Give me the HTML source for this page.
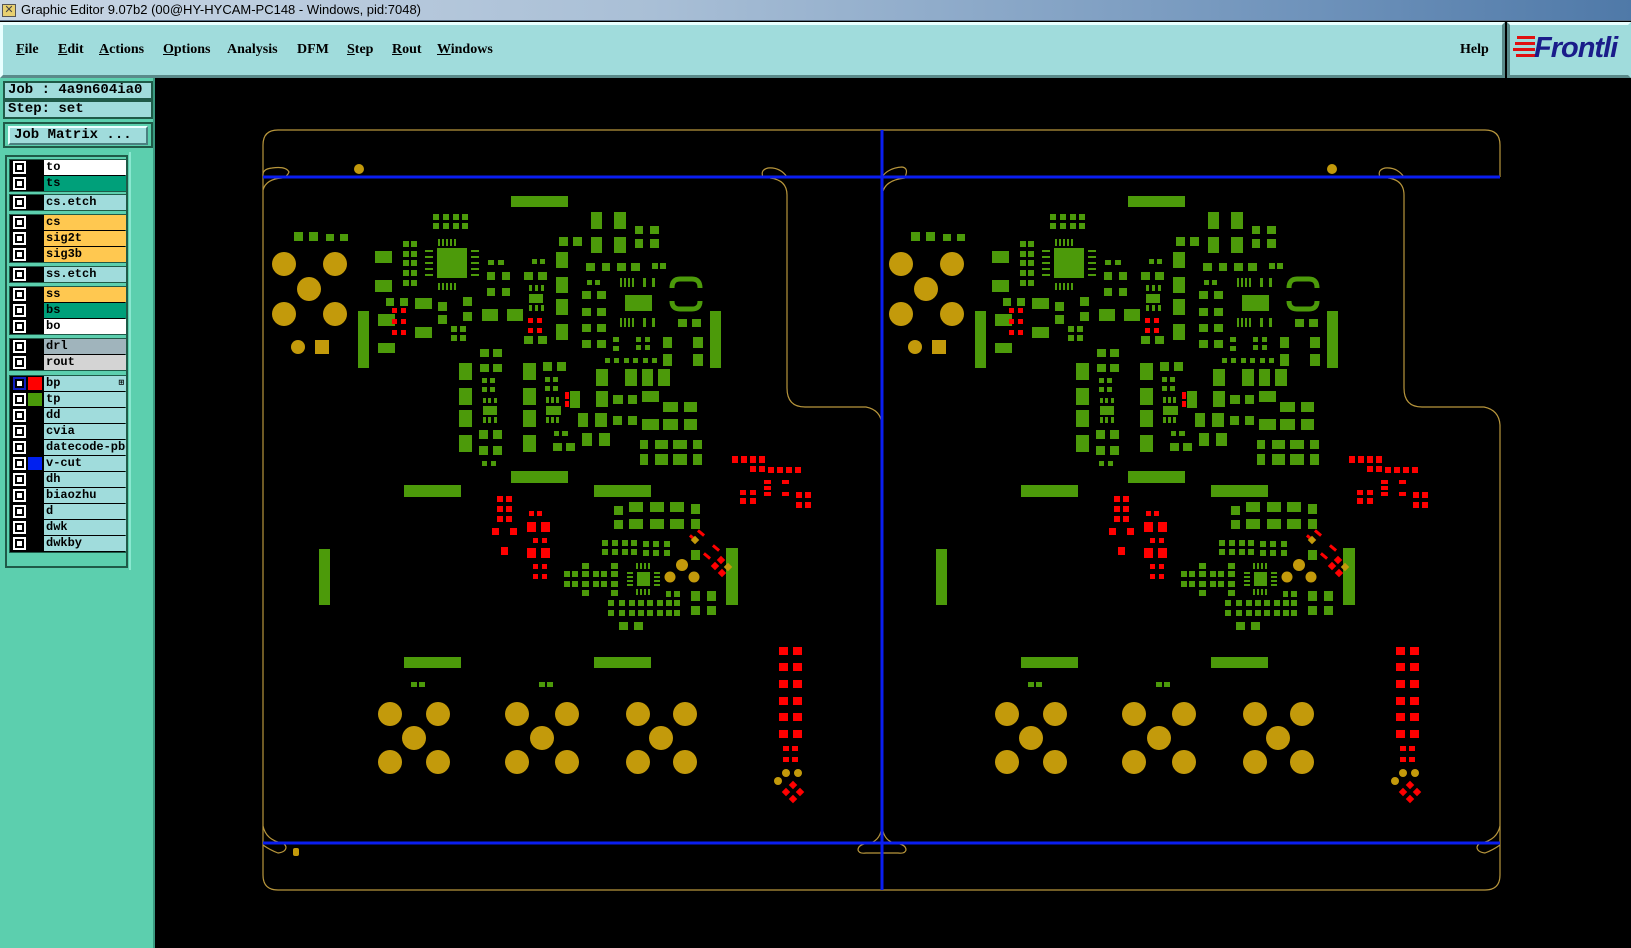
<!DOCTYPE html>
<html><head><meta charset="utf-8"><style>
*{margin:0;padding:0;box-sizing:border-box}
body{width:1631px;height:948px;overflow:hidden;background:#000;position:relative;font-family:"Liberation Sans",sans-serif}
.title{position:absolute;left:0;top:0;width:1631px;height:21px;background:linear-gradient(90deg,#c9d6e4,#a9bfd6 40%,#6f93bb 80%,#4f79a8);border-bottom:1px solid #5a6e84}
.title span{position:absolute;left:21px;top:2px;font-size:13px;color:#000}
.ico{position:absolute;left:2px;top:4px;width:14px;height:13px;background:#e8d070;border:1px solid #555;font-size:11px;line-height:11px;text-align:center;color:#444}
.menu{position:absolute;left:0;top:22px;width:1505px;height:56px;background:#a0dcdc;border:3px solid;border-color:#e8ffff #5a8a8a #5a8a8a #e8ffff}
.menu b{position:absolute;top:17px;font-family:"Liberation Serif",serif;font-size:14px;color:#000}
.logo{position:absolute;left:1507px;top:22px;width:124px;height:56px;background:#a0dcdc;border:3px solid;border-color:#e8ffff #a0dcdc #5a8a8a #5a8a8a}
.logo i{position:absolute;left:24px;top:7px;font:italic bold 29px "Liberation Sans",sans-serif;color:#1a1c8a;letter-spacing:-1px}
.panel{position:absolute;left:0;top:78px;width:155px;height:870px;background:#5ccfae;border-right:2px solid #3a9a80}
.box{position:absolute;left:3px;width:150px;height:19px;background:#a0dcdc;border:2px solid #1f5a48;font:bold 14px "Liberation Mono",monospace;padding-left:3px;line-height:15px}
.btn{position:absolute;left:3px;top:122px;width:150px;height:26px;border:2px solid #1f5a48;background:#5ccfae}
.btn div{position:absolute;left:3px;top:2px;width:140px;height:19px;background:#a0dcdc;border:2px solid;border-color:#e8ffff #4a8080 #4a8080 #e8ffff;font:bold 14px "Liberation Mono",monospace;padding-left:4px;line-height:15px}
.list{position:absolute;left:5px;top:155px;width:123px;height:413px;background:#5ccfae;border:2px solid #1f5a48}
.side{position:absolute;left:129px;top:152px;width:24px;height:418px;background:#5ccfae;border-left:2px solid #8ae8d0}
.grp{position:absolute;left:2px;width:117px;background:#000;border:1px solid #1f5a48}
.row{position:absolute;left:0;width:116px;height:15px}
.cb{position:absolute;left:3px;top:1px;width:13px;height:13px;background:#fff;padding:2px}
.cb i{display:block;width:9px;height:9px;border:2px solid #000;background:#fff}
.sw{position:absolute;left:18px;top:1px;width:14px;height:13px}
.lb{position:absolute;left:34px;top:0;width:82px;height:15px;font:bold 12px "Liberation Mono",monospace;line-height:14px;padding-left:2px;white-space:nowrap;overflow:hidden;background:#a0dcdc}
</style></head><body>
<div class="title"><div class="ico">✕</div><span>Graphic Editor 9.07b2 (00@HY-HYCAM-PC148 - Windows, pid:7048)</span></div>
<div class="menu">
<b style="left:13px"><u>F</u>ile</b><b style="left:55px"><u>E</u>dit</b><b style="left:96px"><u>A</u>ctions</b><b style="left:160px"><u>O</u>ptions</b><b style="left:224px">Analysis</b><b style="left:294px">DFM</b><b style="left:344px"><u>S</u>tep</b><b style="left:389px"><u>R</u>out</b><b style="left:434px"><u>W</u>indows</b><b style="left:1457px">Help</b>
</div>
<div class="logo">
<svg width="30" height="40" style="position:absolute;left:3px;top:6px"><g fill="#e01010"><rect x="4" y="5" width="18" height="3"/><rect x="2" y="11" width="20" height="3"/><rect x="0" y="17" width="22" height="3"/><rect x="3" y="23" width="19" height="3"/></g></svg>
<i>Frontli</i></div>
<div class="panel">
<div class="box" style="top:3px">Job : 4a9n604ia0</div>
<div class="box" style="top:22px">Step: set</div>
<div class="btn" style="top:44px"><div>Job Matrix ...</div></div>
</div>
<div class="side"></div>
<div class="list">
<div class="grp" style="top:2px;height:33px">
<div class="row" style="top:0"><div class="cb"><i></i></div><div class="lb" style="background:#fff">to</div></div>
<div class="row" style="top:16px"><div class="cb"><i></i></div><div class="lb" style="background:#00a07a">ts</div></div></div>
<div class="grp" style="top:37px;height:17px">
<div class="row" style="top:0"><div class="cb"><i></i></div><div class="lb">cs.etch</div></div></div>
<div class="grp" style="top:57px;height:49px">
<div class="row" style="top:0"><div class="cb"><i></i></div><div class="lb" style="background:#ffc850">cs</div></div>
<div class="row" style="top:16px"><div class="cb"><i></i></div><div class="lb" style="background:#ffc850">sig2t</div></div>
<div class="row" style="top:32px"><div class="cb"><i></i></div><div class="lb" style="background:#ffc850">sig3b</div></div></div>
<div class="grp" style="top:109px;height:17px">
<div class="row" style="top:0"><div class="cb"><i></i></div><div class="lb">ss.etch</div></div></div>
<div class="grp" style="top:129px;height:49px">
<div class="row" style="top:0"><div class="cb"><i></i></div><div class="lb" style="background:#ffc850">ss</div></div>
<div class="row" style="top:16px"><div class="cb"><i></i></div><div class="lb" style="background:#00a07a">bs</div></div>
<div class="row" style="top:32px"><div class="cb"><i></i></div><div class="lb" style="background:#fff">bo</div></div></div>
<div class="grp" style="top:181px;height:33px">
<div class="row" style="top:0"><div class="cb"><i></i></div><div class="lb" style="background:#a0b4bc">drl</div></div>
<div class="row" style="top:16px"><div class="cb"><i></i></div><div class="lb" style="background:#d4d4d4">rout</div></div></div>
<div class="grp" style="top:218px;height:178px">
<div class="row" style="top:0"><div class="cb" style="background:#1020c0"><i></i></div><div class="sw" style="background:#f00"></div><div class="lb">bp<span style="position:absolute;right:2px;top:0;font-size:9px">⊞</span></div></div>
<div class="row" style="top:16px"><div class="cb"><i></i></div><div class="sw" style="background:#4a9a0a"></div><div class="lb">tp</div></div>
<div class="row" style="top:32px"><div class="cb"><i></i></div><div class="lb">dd</div></div>
<div class="row" style="top:48px"><div class="cb"><i></i></div><div class="lb">cvia</div></div>
<div class="row" style="top:64px"><div class="cb"><i></i></div><div class="lb">datecode-pbc</div></div>
<div class="row" style="top:80px"><div class="cb"><i></i></div><div class="sw" style="background:#0020f0"></div><div class="lb">v-cut</div></div>
<div class="row" style="top:96px"><div class="cb"><i></i></div><div class="lb">dh</div></div>
<div class="row" style="top:112px"><div class="cb"><i></i></div><div class="lb">biaozhu</div></div>
<div class="row" style="top:128px"><div class="cb"><i></i></div><div class="lb">d</div></div>
<div class="row" style="top:144px"><div class="cb"><i></i></div><div class="lb">dwk</div></div>
<div class="row" style="top:160px"><div class="cb"><i></i></div><div class="lb">dwkby</div></div></div>
</div>

<svg width="1631" height="948" style="position:absolute;left:0;top:0" xmlns="http://www.w3.org/2000/svg">
<defs>
<g id="b">
<g fill="#4c9a0a">
<rect x="511" y="196" width="57" height="11"/><rect x="511" y="471" width="57" height="12"/>
<rect x="404" y="485" width="57" height="12"/><rect x="594" y="485" width="57" height="12"/>
<rect x="404" y="657" width="57" height="11"/><rect x="594" y="657" width="57" height="11"/>
<rect x="358" y="311" width="11" height="57"/><rect x="710" y="311" width="11" height="57"/>
<rect x="319" y="549" width="11" height="56"/><rect x="726" y="548" width="12" height="57"/>
<rect x="294" y="232" width="9" height="9"/><rect x="309" y="232" width="9" height="9"/><rect x="326" y="234" width="8" height="7"/><rect x="340" y="234" width="8" height="7"/>
<rect x="437" y="248" width="30" height="30"/>
<rect x="438" y="239" width="2" height="7"/><rect x="442" y="239" width="2" height="7"/><rect x="446" y="239" width="2" height="7"/><rect x="450" y="239" width="2" height="7"/><rect x="454" y="239" width="2" height="7"/>
<rect x="438" y="283" width="2" height="7"/><rect x="442" y="283" width="2" height="7"/><rect x="446" y="283" width="2" height="7"/><rect x="450" y="283" width="2" height="7"/><rect x="454" y="283" width="2" height="7"/>
<rect x="425" y="250" width="8" height="2"/><rect x="425" y="256" width="8" height="2"/><rect x="425" y="262" width="8" height="2"/><rect x="425" y="268" width="8" height="2"/><rect x="425" y="274" width="8" height="2"/>
<rect x="471" y="250" width="8" height="2"/><rect x="471" y="256" width="8" height="2"/><rect x="471" y="262" width="8" height="2"/><rect x="471" y="268" width="8" height="2"/><rect x="471" y="274" width="8" height="2"/>
<rect x="433" y="214" width="6" height="6"/><rect x="443" y="214" width="6" height="6"/><rect x="453" y="214" width="6" height="6"/><rect x="462" y="214" width="6" height="6"/>
<rect x="433" y="223" width="6" height="6"/><rect x="443" y="223" width="6" height="6"/><rect x="453" y="223" width="6" height="6"/><rect x="462" y="223" width="6" height="6"/>
<rect x="403" y="241" width="6" height="6"/><rect x="411" y="241" width="6" height="6"/><rect x="403" y="251" width="6" height="6"/><rect x="411" y="251" width="6" height="6"/><rect x="403" y="260" width="6" height="6"/><rect x="411" y="260" width="6" height="6"/><rect x="403" y="270" width="6" height="6"/><rect x="411" y="270" width="6" height="6"/><rect x="403" y="280" width="6" height="6"/><rect x="411" y="280" width="6" height="6"/>
<rect x="375" y="251" width="17" height="12"/><rect x="375" y="280" width="17" height="12"/>
<rect x="378" y="314" width="17" height="12"/><rect x="378" y="343" width="17" height="10"/>
<rect x="386" y="298" width="8" height="8"/><rect x="400" y="298" width="8" height="8"/>
<rect x="415" y="298" width="17" height="11"/><rect x="415" y="327" width="17" height="11"/>
<rect x="438" y="302" width="9" height="9"/><rect x="438" y="315" width="9" height="9"/><rect x="463" y="297" width="9" height="9"/><rect x="463" y="312" width="9" height="9"/>
<rect x="451" y="326" width="6" height="6"/><rect x="460" y="326" width="6" height="6"/><rect x="451" y="335" width="6" height="6"/><rect x="460" y="335" width="6" height="6"/>
<rect x="482" y="309" width="16" height="12"/><rect x="507" y="309" width="16" height="12"/>
<rect x="488" y="260" width="6" height="5"/><rect x="498" y="260" width="6" height="5"/>
<rect x="487" y="272" width="8" height="8"/><rect x="502" y="272" width="8" height="8"/><rect x="487" y="288" width="8" height="8"/><rect x="502" y="288" width="8" height="8"/>
<rect x="532" y="259" width="5" height="5"/><rect x="540" y="259" width="5" height="5"/>
<rect x="524" y="272" width="9" height="8"/><rect x="538" y="272" width="9" height="8"/>
<rect x="529" y="285" width="3" height="6"/><rect x="535" y="285" width="3" height="6"/><rect x="541" y="285" width="3" height="6"/>
<rect x="529" y="294" width="14" height="9"/>
<rect x="529" y="305" width="3" height="6"/><rect x="535" y="305" width="3" height="6"/><rect x="541" y="305" width="3" height="6"/>
<rect x="524" y="336" width="9" height="8"/><rect x="538" y="336" width="9" height="8"/>
<rect x="559" y="237" width="9" height="9"/><rect x="573" y="237" width="9" height="9"/>
<rect x="556" y="252" width="12" height="16"/><rect x="556" y="277" width="12" height="16"/><rect x="556" y="299" width="12" height="16"/><rect x="556" y="324" width="12" height="16"/>
<rect x="591" y="212" width="11" height="17"/><rect x="614" y="212" width="12" height="17"/><rect x="591" y="237" width="11" height="16"/><rect x="614" y="237" width="12" height="16"/>
<rect x="635" y="226" width="8" height="8"/><rect x="650" y="226" width="9" height="8"/><rect x="635" y="239" width="8" height="9"/><rect x="650" y="239" width="9" height="9"/>
<rect x="586" y="263" width="9" height="8"/><rect x="602" y="263" width="8" height="8"/><rect x="617" y="263" width="9" height="8"/><rect x="631" y="263" width="9" height="8"/><rect x="652" y="263" width="6" height="6"/><rect x="660" y="263" width="6" height="6"/>
<rect x="587" y="280" width="5" height="5"/><rect x="595" y="280" width="5" height="5"/>
<rect x="582" y="291" width="9" height="8"/><rect x="597" y="291" width="9" height="8"/><rect x="582" y="308" width="9" height="8"/><rect x="597" y="308" width="9" height="8"/><rect x="582" y="324" width="9" height="8"/><rect x="597" y="324" width="9" height="8"/><rect x="582" y="340" width="9" height="8"/><rect x="597" y="340" width="9" height="8"/>
<rect x="620" y="278" width="2" height="9"/><rect x="624" y="278" width="2" height="9"/><rect x="628" y="278" width="2" height="9"/><rect x="632" y="278" width="2" height="9"/><rect x="643" y="278" width="3" height="9"/><rect x="652" y="278" width="3" height="9"/>
<rect x="620" y="318" width="2" height="9"/><rect x="624" y="318" width="2" height="9"/><rect x="628" y="318" width="2" height="9"/><rect x="632" y="318" width="2" height="9"/><rect x="643" y="318" width="3" height="9"/><rect x="652" y="318" width="3" height="9"/>
<rect x="625" y="295" width="27" height="16"/>
<rect x="678" y="319" width="9" height="8"/><rect x="692" y="319" width="9" height="8"/>
<rect x="459" y="363" width="13" height="17"/><rect x="459" y="388" width="13" height="17"/><rect x="459" y="410" width="13" height="17"/><rect x="459" y="435" width="13" height="17"/>
<rect x="480" y="349" width="9" height="8"/><rect x="493" y="349" width="9" height="8"/><rect x="480" y="364" width="9" height="8"/><rect x="493" y="364" width="9" height="8"/>
<rect x="482" y="378" width="5" height="5"/><rect x="490" y="378" width="5" height="5"/><rect x="482" y="387" width="5" height="5"/><rect x="490" y="387" width="5" height="5"/>
<rect x="483" y="398" width="3" height="5"/><rect x="488" y="398" width="3" height="5"/><rect x="494" y="398" width="3" height="5"/>
<rect x="483" y="406" width="14" height="9"/>
<rect x="483" y="417" width="3" height="6"/><rect x="488" y="417" width="3" height="6"/><rect x="494" y="417" width="3" height="6"/>
<rect x="479" y="430" width="9" height="9"/><rect x="493" y="430" width="9" height="9"/><rect x="479" y="446" width="9" height="9"/><rect x="493" y="446" width="9" height="9"/>
<rect x="482" y="461" width="5" height="5"/><rect x="491" y="461" width="5" height="5"/>
<rect x="523" y="363" width="13" height="17"/><rect x="523" y="388" width="13" height="17"/><rect x="523" y="410" width="13" height="17"/><rect x="523" y="435" width="13" height="17"/>
<rect x="543" y="362" width="9" height="9"/><rect x="557" y="362" width="9" height="9"/>
<rect x="545" y="377" width="5" height="5"/><rect x="553" y="377" width="5" height="5"/><rect x="545" y="386" width="5" height="5"/><rect x="553" y="386" width="5" height="5"/>
<rect x="546" y="397" width="3" height="6"/><rect x="551" y="397" width="3" height="6"/><rect x="556" y="397" width="3" height="6"/>
<rect x="546" y="406" width="15" height="9"/>
<rect x="546" y="417" width="3" height="6"/><rect x="551" y="417" width="3" height="6"/><rect x="556" y="417" width="3" height="6"/>
<rect x="554" y="431" width="5" height="5"/><rect x="562" y="431" width="6" height="5"/>
<rect x="553" y="443" width="9" height="8"/><rect x="566" y="443" width="9" height="8"/>
<rect x="570" y="391" width="10" height="17"/>
<rect x="578" y="413" width="10" height="14"/><rect x="595" y="413" width="12" height="14"/>
<rect x="582" y="433" width="10" height="13"/><rect x="599" y="433" width="11" height="13"/>
<rect x="596" y="369" width="12" height="17"/><rect x="596" y="391" width="12" height="16"/>
<rect x="605" y="358" width="5" height="5"/><rect x="614" y="358" width="5" height="5"/><rect x="624" y="358" width="5" height="5"/><rect x="633" y="358" width="5" height="5"/><rect x="643" y="358" width="5" height="5"/><rect x="652" y="358" width="5" height="5"/>
<rect x="613" y="337" width="6" height="5"/><rect x="613" y="346" width="6" height="5"/>
<rect x="636" y="337" width="5" height="5"/><rect x="645" y="337" width="5" height="5"/><rect x="636" y="345" width="5" height="5"/><rect x="645" y="345" width="5" height="5"/>
<rect x="625" y="369" width="12" height="17"/><rect x="642" y="369" width="11" height="17"/><rect x="658" y="369" width="12" height="17"/>
<rect x="663" y="337" width="9" height="11"/><rect x="663" y="354" width="9" height="12"/><rect x="693" y="337" width="10" height="11"/><rect x="693" y="354" width="10" height="12"/>
<rect x="613" y="395" width="10" height="9"/><rect x="628" y="395" width="9" height="9"/><rect x="642" y="391" width="17" height="11"/>
<rect x="613" y="416" width="9" height="9"/><rect x="628" y="416" width="9" height="9"/>
<rect x="663" y="402" width="15" height="10"/><rect x="684" y="402" width="13" height="10"/>
<rect x="642" y="419" width="17" height="11"/><rect x="663" y="419" width="15" height="11"/><rect x="684" y="419" width="13" height="11"/>
<rect x="640" y="440" width="8" height="9"/><rect x="655" y="440" width="13" height="9"/><rect x="673" y="440" width="14" height="9"/><rect x="693" y="440" width="9" height="9"/>
<rect x="640" y="454" width="8" height="11"/><rect x="655" y="454" width="13" height="11"/><rect x="673" y="454" width="14" height="11"/><rect x="693" y="454" width="9" height="11"/>
<rect x="614" y="506" width="9" height="9"/><rect x="614" y="520" width="9" height="9"/>
<rect x="629" y="502" width="14" height="10"/><rect x="650" y="502" width="14" height="10"/><rect x="670" y="502" width="14" height="10"/>
<rect x="629" y="519" width="14" height="10"/><rect x="650" y="519" width="14" height="10"/><rect x="670" y="519" width="14" height="10"/>
<rect x="691" y="504" width="9" height="10"/><rect x="691" y="519" width="9" height="10"/><rect x="691" y="550" width="9" height="10"/>
<rect x="602" y="540" width="6" height="6"/><rect x="612" y="540" width="6" height="6"/><rect x="622" y="540" width="6" height="6"/><rect x="631" y="540" width="6" height="6"/>
<rect x="602" y="549" width="6" height="6"/><rect x="612" y="549" width="6" height="6"/><rect x="622" y="549" width="6" height="6"/><rect x="631" y="549" width="6" height="6"/>
<rect x="643" y="541" width="6" height="6"/><rect x="653" y="541" width="6" height="6"/><rect x="664" y="541" width="6" height="6"/>
<rect x="643" y="550" width="6" height="6"/><rect x="653" y="550" width="6" height="6"/><rect x="664" y="550" width="6" height="6"/>
<rect x="564" y="571" width="6" height="6"/><rect x="572" y="571" width="6" height="6"/><rect x="564" y="581" width="6" height="6"/><rect x="572" y="581" width="6" height="6"/>
<rect x="582" y="563" width="7" height="6"/><rect x="582" y="571" width="7" height="6"/><rect x="582" y="581" width="7" height="6"/><rect x="582" y="590" width="7" height="6"/>
<rect x="593" y="571" width="6" height="6"/><rect x="601" y="571" width="6" height="6"/><rect x="593" y="581" width="6" height="6"/><rect x="601" y="581" width="6" height="6"/>
<rect x="611" y="563" width="7" height="6"/><rect x="611" y="571" width="7" height="6"/><rect x="611" y="581" width="7" height="6"/><rect x="611" y="590" width="7" height="6"/>
<rect x="637" y="572" width="13" height="14"/>
<rect x="636" y="563" width="2" height="6"/><rect x="640" y="563" width="2" height="6"/><rect x="644" y="563" width="2" height="6"/><rect x="648" y="563" width="2" height="6"/>
<rect x="636" y="589" width="2" height="6"/><rect x="640" y="589" width="2" height="6"/><rect x="644" y="589" width="2" height="6"/><rect x="648" y="589" width="2" height="6"/>
<rect x="627" y="572" width="6" height="2"/><rect x="627" y="576" width="6" height="2"/><rect x="627" y="580" width="6" height="2"/><rect x="627" y="584" width="6" height="2"/>
<rect x="654" y="572" width="6" height="2"/><rect x="654" y="576" width="6" height="2"/><rect x="654" y="580" width="6" height="2"/><rect x="654" y="584" width="6" height="2"/>
<rect x="666" y="591" width="5" height="6"/><rect x="674" y="591" width="6" height="6"/>
<rect x="608" y="600" width="6" height="6"/><rect x="619" y="600" width="6" height="6"/><rect x="629" y="600" width="6" height="6"/><rect x="638" y="600" width="6" height="6"/><rect x="647" y="600" width="6" height="6"/><rect x="657" y="600" width="6" height="6"/><rect x="666" y="600" width="6" height="6"/><rect x="674" y="600" width="6" height="6"/>
<rect x="608" y="610" width="6" height="6"/><rect x="619" y="610" width="6" height="6"/><rect x="629" y="610" width="6" height="6"/><rect x="638" y="610" width="6" height="6"/><rect x="647" y="610" width="6" height="6"/><rect x="657" y="610" width="6" height="6"/><rect x="666" y="610" width="6" height="6"/><rect x="674" y="610" width="6" height="6"/>
<rect x="619" y="622" width="9" height="8"/><rect x="634" y="622" width="9" height="8"/>
<rect x="691" y="591" width="9" height="10"/><rect x="707" y="591" width="9" height="10"/><rect x="691" y="606" width="9" height="9"/><rect x="707" y="606" width="9" height="9"/>
<rect x="411" y="682" width="6" height="5"/><rect x="419" y="682" width="6" height="5"/>
<rect x="539" y="682" width="6" height="5"/><rect x="547" y="682" width="6" height="5"/>
</g>
<path d="M672,288 Q672,279 680,279 H692 Q700,279 700,288 M672,301 Q672,309 680,309 H692 Q700,309 700,301" fill="none" stroke="#4c9a0a" stroke-width="5"/>
<g fill="#c39a0b">
<circle cx="284" cy="264" r="12"/><circle cx="335" cy="264" r="12"/><circle cx="309" cy="289" r="12"/><circle cx="284" cy="314" r="12"/><circle cx="335" cy="314" r="12"/>
<circle cx="298" cy="347" r="7"/><rect x="315" y="340" width="14" height="14"/>
<circle cx="390" cy="714" r="12"/><circle cx="438" cy="714" r="12"/><circle cx="414" cy="738" r="12"/><circle cx="390" cy="762" r="12"/><circle cx="438" cy="762" r="12"/>
<circle cx="517" cy="714" r="12"/><circle cx="567" cy="714" r="12"/><circle cx="542" cy="738" r="12"/><circle cx="517" cy="762" r="12"/><circle cx="567" cy="762" r="12"/>
<circle cx="638" cy="714" r="12"/><circle cx="685" cy="714" r="12"/><circle cx="661" cy="738" r="12"/><circle cx="638" cy="762" r="12"/><circle cx="685" cy="762" r="12"/>
<circle cx="682" cy="565" r="6"/><circle cx="670" cy="577" r="5.5"/><circle cx="694" cy="577" r="5.5"/>
<circle cx="786" cy="773" r="4"/><circle cx="798" cy="773" r="4"/><circle cx="778" cy="781" r="4"/>
</g>
<g fill="#f00">
<rect x="392" y="308" width="5" height="5"/><rect x="401" y="308" width="5" height="5"/><rect x="392" y="319" width="5" height="5"/><rect x="401" y="319" width="5" height="5"/><rect x="392" y="330" width="5" height="5"/><rect x="401" y="330" width="5" height="5"/>
<rect x="528" y="318" width="5" height="5"/><rect x="537" y="318" width="5" height="5"/><rect x="528" y="328" width="5" height="5"/><rect x="537" y="328" width="5" height="5"/>
<rect x="565" y="392" width="4" height="7"/><rect x="565" y="401" width="4" height="6"/>
<rect x="497" y="496" width="6" height="6"/><rect x="506" y="496" width="6" height="6"/><rect x="497" y="506" width="6" height="6"/><rect x="506" y="506" width="6" height="6"/><rect x="497" y="516" width="6" height="6"/><rect x="506" y="516" width="6" height="6"/>
<rect x="492" y="528" width="7" height="7"/><rect x="510" y="528" width="7" height="7"/><rect x="501" y="547" width="7" height="8"/>
<rect x="529" y="511" width="5" height="5"/><rect x="537" y="511" width="5" height="5"/>
<rect x="527" y="522" width="9" height="10"/><rect x="541" y="522" width="9" height="10"/>
<rect x="533" y="538" width="5" height="5"/><rect x="542" y="538" width="5" height="5"/>
<rect x="527" y="548" width="9" height="10"/><rect x="541" y="548" width="9" height="10"/>
<rect x="533" y="564" width="5" height="5"/><rect x="542" y="564" width="5" height="5"/><rect x="533" y="574" width="5" height="5"/><rect x="542" y="574" width="5" height="5"/>
<rect x="732" y="456" width="6" height="7"/><rect x="741" y="456" width="6" height="7"/><rect x="750" y="456" width="6" height="7"/><rect x="759" y="456" width="6" height="7"/>
<rect x="750" y="466" width="6" height="6"/><rect x="759" y="466" width="6" height="6"/><rect x="768" y="467" width="6" height="6"/><rect x="777" y="467" width="6" height="6"/><rect x="786" y="467" width="6" height="6"/><rect x="795" y="467" width="6" height="6"/>
<rect x="764" y="480" width="7" height="4"/><rect x="764" y="486" width="7" height="4"/><rect x="764" y="492" width="7" height="4"/><rect x="782" y="480" width="7" height="4"/><rect x="782" y="492" width="7" height="4"/>
<rect x="740" y="490" width="6" height="5"/><rect x="750" y="490" width="6" height="5"/><rect x="740" y="498" width="6" height="6"/><rect x="750" y="498" width="6" height="6"/>
<rect x="796" y="492" width="6" height="6"/><rect x="805" y="492" width="6" height="6"/><rect x="796" y="502" width="6" height="6"/><rect x="805" y="502" width="6" height="6"/>
<rect x="779" y="647" width="9" height="8"/><rect x="793" y="647" width="9" height="8"/><rect x="779" y="663" width="9" height="8"/><rect x="793" y="663" width="9" height="8"/><rect x="779" y="680" width="9" height="8"/><rect x="793" y="680" width="9" height="8"/><rect x="779" y="697" width="9" height="8"/><rect x="793" y="697" width="9" height="8"/><rect x="779" y="713" width="9" height="8"/><rect x="793" y="713" width="9" height="8"/><rect x="779" y="730" width="9" height="8"/><rect x="793" y="730" width="9" height="8"/>
<rect x="783" y="746" width="6" height="5"/><rect x="792" y="746" width="6" height="5"/><rect x="783" y="757" width="6" height="5"/><rect x="792" y="757" width="6" height="5"/>
<rect x="-3" y="-3" width="6" height="6" transform="translate(793,785) rotate(45)"/><rect x="-3" y="-3" width="6" height="6" transform="translate(786,792) rotate(45)"/><rect x="-3" y="-3" width="6" height="6" transform="translate(800,792) rotate(45)"/><rect x="-3" y="-3" width="6" height="6" transform="translate(793,799) rotate(45)"/>
<rect x="-4" y="-1.5" width="8" height="3" transform="translate(701,533) rotate(40)"/><rect x="-4" y="-1.5" width="8" height="3" transform="translate(693,538) rotate(40)"/>
<rect x="-4" y="-1.5" width="8" height="3" transform="translate(716,548) rotate(40)"/><rect x="-4" y="-1.5" width="8" height="3" transform="translate(707,556) rotate(40)"/>
<rect x="-3" y="-3" width="6" height="6" transform="translate(721,560) rotate(45)"/><rect x="-3" y="-3" width="6" height="6" transform="translate(715,566) rotate(45)"/><rect x="-3" y="-3" width="6" height="6" transform="translate(722,573) rotate(45)"/>
</g>
<rect x="-3" y="-3" width="6" height="6" fill="#c39a0b" transform="translate(695,540) rotate(45)"/>
<rect x="-3" y="-3" width="6" height="6" fill="#c39a0b" transform="translate(728,567) rotate(45)"/>
</g>
</defs>
<use href="#b"/>
<use href="#b" x="617"/>
<g fill="none" stroke="#b8963c" stroke-width="1.2">
<path d="M263,177 V145 Q263,130 278,130 H1485 Q1500,130 1500,145 V177"/>
<path d="M263,177 V875 Q263,890 278,890 H1485 Q1500,890 1500,875 V425 Q1499,410 1484,407 H1422 Q1404,407 1404,388 V195 Q1404,180 1388,178"/>
<path d="M770,178 Q787,180 787,195 V388 Q787,407 805,407 H866 Q881,410 882,425"/>
<path d="M905,178 Q884,180 882,195"/>
<path d="M263,190 Q266,179 282,178 M263,176 Q262,169 272,168 Q286,166 289,172 Q287,177 282,178"/>
<path d="M763,177 Q760,170 768,168 Q780,167 787,177"/>
<path d="M882,177 Q888,168 902,167 Q909,168 905,177"/>
<path d="M1380,177 Q1377,170 1385,168 Q1397,167 1404,177"/>
<path d="M263,826 Q266,840 282,843 M263,845 Q270,850 278,853 Q286,852 286,847 Q285,843 280,843"/>
<path d="M882,825 Q881,840 870,843 Q858,844 858,850 Q859,854 866,853 H898 Q905,854 906,850 Q906,844 894,843 Q883,840 882,825"/>
<path d="M1500,826 Q1497,840 1481,843 M1500,845 Q1493,850 1485,853 Q1477,852 1477,847 Q1478,843 1483,843"/>
</g>
<g fill="#c39a0b"><circle cx="359" cy="169" r="5"/><circle cx="1332" cy="169" r="5"/><rect x="293" y="848" width="6" height="8" rx="2"/></g>
<g fill="#0a1ef0">
<rect x="263" y="175.5" width="1237" height="3"/>
<rect x="263" y="841.5" width="1237" height="3"/>
<rect x="880.5" y="130" width="3" height="760"/>
</g>
</svg>
</body></html>
